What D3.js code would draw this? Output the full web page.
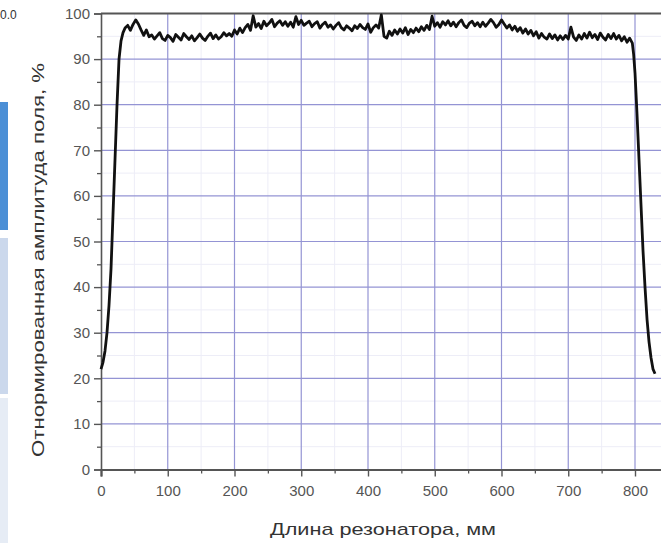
<!DOCTYPE html>
<html><head><meta charset="utf-8">
<script src="https://cdn.jsdelivr.net/npm/d3@7"></script>
<style>html,body{margin:0;padding:0;background:#fff;overflow:hidden}svg{display:block}</style>
</head><body>
<svg id="c" width="661" height="543"></svg>
<script>
// Rise at the left end (mm, %)
const riseX = [0,3,6,9,12,15,18,21,24,27,30,33];
const riseY = [22,23.5,26,30,36,44,56,68,80,90,94,95.8];
// Plateau: every 4 mm from 36 to 796
const plateauStart = 36, plateauStep = 4;
const plateauY = [
 96.8,97.4,96.3,97.6,98.6,97.7,96.4,95.2,96.4,94.9,
 95.3,94.4,95.1,95.8,94.5,94.1,95.2,94.7,93.9,95.4,
 94.8,94.2,95.6,94.9,94.3,95.1,94.0,94.7,95.5,94.6,
 94.1,95.0,95.7,94.5,95.3,94.4,94.9,95.8,95.1,95.6,
 95.0,96.4,95.5,96.8,95.8,96.9,97.6,96.3,99.5,97.0,
 97.8,96.7,98.3,97.3,97.9,98.7,97.1,97.9,98.4,97.4,
 98.2,97.2,98.1,97.0,99.3,97.6,98.5,97.4,97.9,98.3,
 97.1,97.8,98.2,96.8,97.6,98.1,97.0,97.5,96.6,97.4,
 98.0,96.9,96.4,97.3,96.8,96.2,97.3,96.7,97.6,96.9,
 96.5,97.7,95.9,96.9,97.5,96.8,99.7,95.0,94.6,96.1,
 95.2,96.4,95.5,96.6,95.7,96.9,95.4,96.5,95.8,96.8,
 96.0,97.1,96.3,97.4,96.5,99.4,97.2,98.0,97.0,98.2,
 97.5,98.4,97.3,98.1,97.1,98.0,98.6,97.4,96.9,97.9,
 98.3,97.3,98.0,97.1,98.1,97.2,97.9,98.7,98.0,97.0,
 97.6,98.6,97.7,96.8,97.5,96.4,97.2,96.1,96.9,95.7,
 96.6,95.5,96.3,95.1,96.0,94.6,95.6,94.8,94.4,95.5,
 94.5,95.3,94.2,95.1,94.3,95.2,94.4,97.0,94.8,94.1,
 95.3,94.4,95.6,94.6,95.9,94.7,95.4,94.3,95.7,94.8,
 94.2,95.4,94.5,95.6,94.4,95.2,94.0,94.9,93.7,94.6,
 93.5
];
// Drop at the right end
const dropX = [798,800,803,806,809,812,815,818,821,824,827,830];
const dropY = [91,87,78,68,58,48,40,33,28,24.5,22,21];

const xTicks = [0,100,200,300,400,500,600,700,800];
const yTicks = [0,10,20,30,40,50,60,70,80,90,100];
const xMinor = [50,150,250,350,450,550,650,750];
const yMinor = [5,15,25,35,45,55,65,75,85,95];
const xTitle = "Длина резонатора, мм";
const yTitle = "Отнормированная амплитуда поля, %";

const data = [];
riseX.forEach((x,i)=>data.push([x,riseY[i]]));
plateauY.forEach((v,i)=>data.push([plateauStart+i*plateauStep,v]));
dropX.forEach((x,i)=>data.push([x,dropY[i]]));

const svg = d3.select("#c");
const x = d3.scaleLinear().domain([0,850]).range([101,101+8.5*66.75]);
const y = d3.scaleLinear().domain([0,100]).range([469.5,13.5]);

// left-side slide artifacts
svg.append("rect").attr("x",0).attr("y",0).attr("width",661).attr("height",543).attr("fill","#fff");
svg.append("rect").attr("x",0).attr("y",102).attr("width",8).attr("height",128).attr("fill","#4b8fd6");
svg.append("rect").attr("x",0).attr("y",238).attr("width",8).attr("height",156).attr("fill","#cbd8ec");
svg.append("rect").attr("x",0).attr("y",398).attr("width",8).attr("height",145).attr("fill","#e6ecf5");
svg.append("text").attr("x",0).attr("y",19).attr("font-family","Liberation Sans, Arial, sans-serif")
  .attr("font-size",12).attr("fill","#333").text("0.0");

const g = svg.append("g");
// minor grid
g.selectAll(".mgx").data(xMinor).enter().append("line")
  .attr("x1",d=>x(d)).attr("x2",d=>x(d)).attr("y1",y(0)).attr("y2",y(100))
  .attr("stroke","#ededf7").attr("stroke-width",1);
g.selectAll(".mgy").data(yMinor).enter().append("line")
  .attr("x1",x(0)).attr("x2",661).attr("y1",d=>y(d)).attr("y2",d=>y(d))
  .attr("stroke","#ededf7").attr("stroke-width",1);
// major grid
g.selectAll(".gx").data(xTicks.slice(1)).enter().append("line")
  .attr("x1",d=>x(d)).attr("x2",d=>x(d)).attr("y1",y(0)).attr("y2",y(100))
  .attr("stroke","#9494d4").attr("stroke-width",1.2);
g.selectAll(".gy").data(yTicks.slice(1,-1)).enter().append("line")
  .attr("x1",x(0)).attr("x2",661).attr("y1",d=>y(d)).attr("y2",d=>y(d))
  .attr("stroke","#9494d4").attr("stroke-width",1.2);

// top frame
g.append("line").attr("x1",x(0)).attr("x2",661).attr("y1",y(100)).attr("y2",y(100))
  .attr("stroke","#555").attr("stroke-width",2);

const font = "Liberation Sans, Arial, sans-serif";
// axes
const yAxis = d3.axisLeft(y).tickValues(yTicks).tickSize(7).tickPadding(4);
const ya = svg.append("g").attr("transform",`translate(${x(0)},0)`).call(yAxis);
ya.select(".domain").attr("stroke","#555").attr("stroke-width",1.6);
ya.selectAll(".tick line").attr("stroke","#555").attr("stroke-width",1.4);
ya.selectAll(".tick text").attr("font-family",font).attr("font-size",15).attr("fill","#555");
const yAxisMinor = d3.axisLeft(y).tickValues(yMinor).tickSize(4).tickFormat("");
const yam = svg.append("g").attr("transform",`translate(${x(0)},0)`).call(yAxisMinor);
yam.select(".domain").remove();
yam.selectAll(".tick line").attr("stroke","#555").attr("stroke-width",1.3);

const xAxis = d3.axisBottom(x).tickValues(xTicks).tickSize(7).tickPadding(9);
const xa = svg.append("g").attr("transform",`translate(0,${y(0)})`).call(xAxis);
xa.select(".domain").attr("stroke","#555").attr("stroke-width",2.2);
xa.selectAll(".tick line").attr("stroke","#555").attr("stroke-width",1.4);
xa.selectAll(".tick text").attr("font-family",font).attr("font-size",15).attr("fill","#555");
const xAxisMinor = d3.axisBottom(x).tickValues(xMinor).tickSize(4).tickFormat("");
const xam = svg.append("g").attr("transform",`translate(0,${y(0)})`).call(xAxisMinor);
xam.select(".domain").remove();
xam.selectAll(".tick line").attr("stroke","#555").attr("stroke-width",1.3);

// curve
const line = d3.line().x(d=>x(d[0])).y(d=>y(d[1])).curve(d3.curveLinear);
svg.append("path").datum(data).attr("d",line).attr("fill","none")
  .attr("stroke","#111").attr("stroke-width",2.8).attr("stroke-linejoin","round");

// titles
svg.append("text").attr("x",383).attr("y",535).attr("text-anchor","middle")
  .attr("font-family",font).attr("font-size",17).attr("fill","#333")
  .attr("textLength",226).attr("lengthAdjust","spacingAndGlyphs").text(xTitle);
svg.append("text").attr("transform","translate(44,260) rotate(-90)").attr("text-anchor","middle")
  .attr("font-family",font).attr("font-size",17).attr("fill","#333")
  .attr("textLength",394).attr("lengthAdjust","spacingAndGlyphs").text(yTitle);
</script>
</body></html>
